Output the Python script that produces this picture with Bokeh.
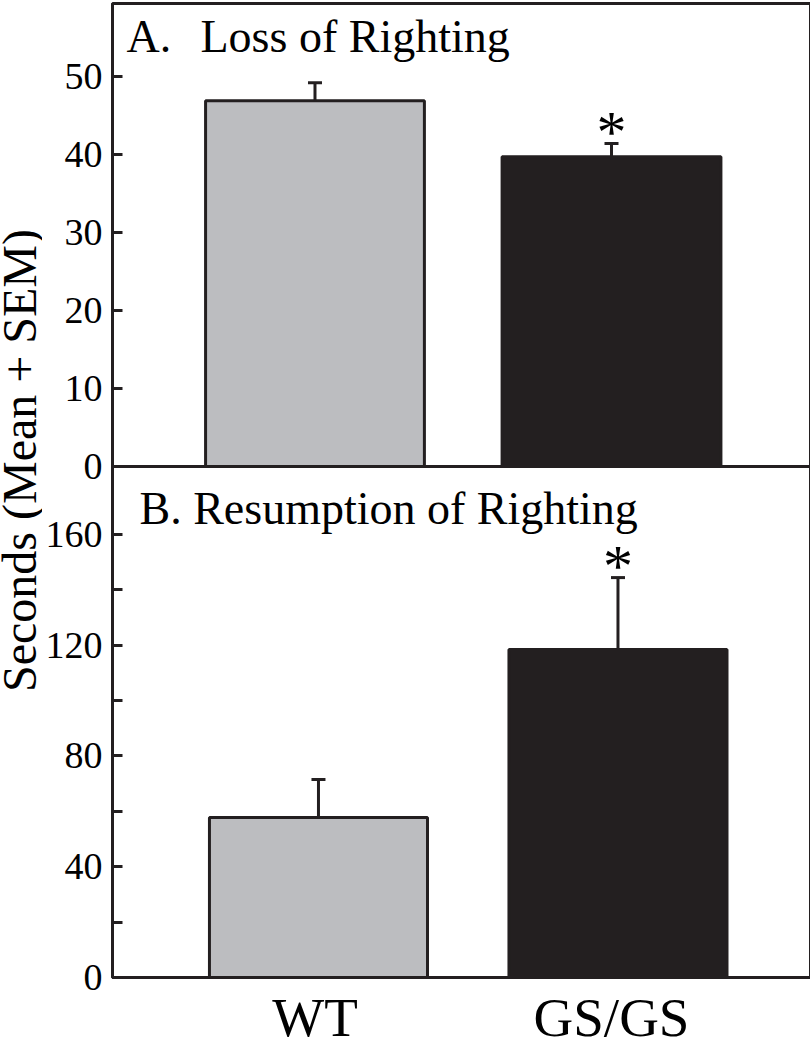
import math
from bokeh.plotting import figure
from bokeh.layouts import row
from bokeh.models import (Range1d, FixedTicker, Whisker, TeeHead, Span, Label,
                          ColumnDataSource)
from bokeh.core.properties import value
from bokeh.embed import file_html
from bokeh.resources import INLINE

# ---------------- data ----------------
groups = ["WT", "GS/GS"]
loss_mean = [46.9, 39.7]          # A. Loss of Righting (s)
loss_sem = [2.3, 1.7]
resume_mean = [57.8, 118.4]       # B. Resumption of Righting (s)
resume_sem = [13.7, 26.0]
significant = [False, True]
loss_ticks = [0, 10, 20, 30, 40, 50]
resume_ticks = [0, 40, 80, 120, 160]
resume_minor = [20, 60, 100, 140]
bar_colors = ["#bcbdc0", "#231f20"]

FONT = "Liberation Serif"
INK = "#231f20"

# ---------------- ranges (panel B uses the main range, panel A an extra one) -------------
B_END = 351.7
A_START, A_END = -65.5, 59.36
xs = [i + 0.5 for i in range(len(groups))]

p = figure(frame_width=698, frame_height=974,
           x_range=Range1d(-0.1877, 2.1428), y_range=Range1d(0, B_END),
           output_backend="svg", toolbar_location=None,
           min_border_left=68, min_border_right=2, min_border_top=3, min_border_bottom=0,
           outline_line_color=INK, outline_line_width=3,
           background_fill_color="white", border_fill_color="white")
p.extra_x_ranges = {"A": Range1d(-0.1829, 2.1711)}
p.extra_y_ranges = {"A": Range1d(A_START, A_END)}
p.grid.visible = False

# ---------------- bars ----------------
srcA = ColumnDataSource(dict(x=xs, mean=loss_mean,
                             top=[m + s for m, s in zip(loss_mean, loss_sem)],
                             color=bar_colors))
srcB = ColumnDataSource(dict(x=xs, mean=resume_mean,
                             top=[m + s for m, s in zip(resume_mean, resume_sem)],
                             color=bar_colors))

p.vbar(x="x", top="mean", bottom=0, width=0.738, source=srcA, fill_color="color",
       line_color=INK, line_width=3, x_range_name="A", y_range_name="A")
p.vbar(x="x", top="mean", bottom=0, width=0.728, source=srcB, fill_color="color",
       line_color=INK, line_width=3)

for src, xr, yr in [(srcA, "A", "A"), (srcB, "default", "default")]:
    w = Whisker(base="x", lower="mean", upper="top", source=src, dimension="height",
                upper_head=TeeHead(size=14, line_width=3, line_color=INK),
                lower_head=None, line_width=3, line_color=INK, level="annotation",
                x_range_name=xr, y_range_name=yr)
    p.add_layout(w)

# significance asterisks
sig_x = [x for x, s in zip(xs, significant) if s]
sigA_y = [m + e for m, e, s in zip(loss_mean, loss_sem, significant) if s]
sigB_y = [m + e for m, e, s in zip(resume_mean, resume_sem, significant) if s]
p.text(x=sig_x, y=sigA_y, text=["*"] * len(sig_x), text_font=value(FONT),
       text_font_size="60px", text_align="center", text_baseline="alphabetic",
       text_color="black", y_offset=-12, x_range_name="A", y_range_name="A")
p.text(x=sig_x, y=sigB_y, text=["*"] * len(sig_x), text_font=value(FONT),
       text_font_size="60px", text_align="center", text_baseline="alphabetic",
       text_color="black", y_offset=-12)

# divider between the panels
p.add_layout(Span(location=0, dimension="width", y_range_name="A",
                  line_color=INK, line_width=3))

# ---------------- axes ----------------
def a_to_main(v):
    return round((v - A_START) / (A_END - A_START) * B_END, 6)

main_ticks = [float(t) for t in resume_ticks] + [a_to_main(t) for t in loss_ticks]
overrides = {float(t): str(t) for t in resume_ticks}
overrides.update({a_to_main(t): str(t) for t in loss_ticks})

ya = p.yaxis[0]
ya.ticker = FixedTicker(ticks=main_ticks, minor_ticks=[float(t) for t in resume_minor])
ya.major_label_overrides = overrides
ya.major_tick_in = 10
ya.major_tick_out = 0
ya.minor_tick_in = 10
ya.minor_tick_out = 0
ya.major_tick_line_width = 3
ya.minor_tick_line_width = 3
ya.major_tick_line_color = INK
ya.minor_tick_line_color = INK
ya.axis_line_width = 3
ya.axis_line_color = INK
ya.major_label_standoff = 10
ya.major_label_text_font = FONT
ya.major_label_text_font_size = "38px"
ya.major_label_text_color = "black"

xa = p.xaxis[0]
xa.x_range_name = "A"
xa.ticker = FixedTicker(ticks=xs, minor_ticks=[])
xa.major_label_overrides = {x: g for x, g in zip(xs, groups)}
xa.major_tick_in = 0
xa.major_tick_out = 0
xa.minor_tick_in = 0
xa.minor_tick_out = 0
xa.axis_line_width = 3
xa.axis_line_color = INK
xa.major_label_standoff = 9
xa.major_label_text_font = FONT
xa.major_label_text_font_size = "55px"
xa.major_label_text_color = "black"

# ---------------- panel titles ----------------
p.add_layout(Label(x=14, y=941, x_units="screen", y_units="screen", text="A.",
                   text_font=FONT, text_font_size="46px", text_color="black",
                   text_baseline="alphabetic"))
p.add_layout(Label(x=88, y=941, x_units="screen", y_units="screen",
                   text="Loss of Righting", text_font=FONT, text_font_size="46px",
                   text_color="black", text_baseline="alphabetic"))
p.add_layout(Label(x=27, y=469, x_units="screen", y_units="screen",
                   text="B. Resumption of Righting", text_font=FONT,
                   text_font_size="46px", text_color="black",
                   text_baseline="alphabetic"))

# ---------------- shared y-axis title (own narrow canvas) ----------------
lab = figure(width=42, height=1050, x_range=Range1d(0, 1), y_range=Range1d(0, 1),
             output_backend="svg", toolbar_location=None,
             min_border_left=0, min_border_right=0, min_border_top=0, min_border_bottom=0,
             outline_line_color=None, background_fill_color="white",
             border_fill_color="white")
lab.axis.visible = False
lab.grid.visible = False
lab.add_layout(Label(x=19, y=517, x_units="screen", y_units="screen",
                     text="Seconds (Mean + SEM)", angle=math.pi / 2,
                     text_font=FONT, text_font_size="48px", text_color="black",
                     text_align="center", text_baseline="middle"))

layout = row(lab, p, spacing=0)
open("out.html", "w").write(file_html(layout, INLINE))
